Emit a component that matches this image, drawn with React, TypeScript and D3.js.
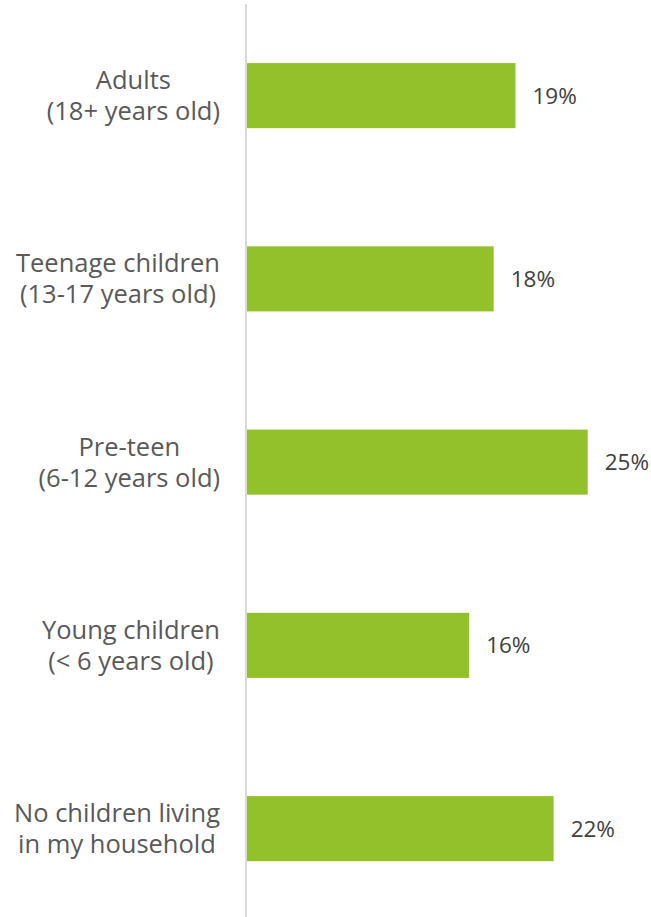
import React, { useEffect, useRef } from "react";
import * as d3 from "d3";

const categoryLines: string[][] = [
  ["Adults", "(18+ years old)"],
  ["Teenage children", "(13-17 years old)"],
  ["Pre-teen", "(6-12 years old)"],
  ["Young children", "(< 6 years old)"],
  ["No children living", "in my household"],
];
const categoryKeys = ["adults", "teen", "preteen", "young", "none"];
const values = [19.7, 18.1, 25.0, 16.3, 22.5];
const valueLabels = ["19%", "18%", "25%", "16%", "22%"];

const W = 651;
const H = 917;

export default function App() {
  const ref = useRef<SVGSVGElement | null>(null);

  useEffect(() => {
    const svg = d3.select(ref.current);
    svg.selectAll("*").remove();

    const x = d3.scaleLinear().domain([0, 25]).range([247, 587.7]);
    const y = d3
      .scaleBand<string>()
      .domain(categoryKeys)
      .range([4, 920.25])
      .paddingInner(0.645)
      .paddingOuter(0.3225);

    // axis line
    svg
      .append("line")
      .attr("x1", 246)
      .attr("x2", 246)
      .attr("y1", 4)
      .attr("y2", H)
      .attr("stroke", "#d9d9d9")
      .attr("stroke-width", 2);

    // bars
    svg
      .selectAll("rect.bar")
      .data(values)
      .join("rect")
      .attr("class", "bar")
      .attr("x", x(0))
      .attr("y", (_, i) => y(categoryKeys[i])!)
      .attr("width", (d) => x(d) - x(0))
      .attr("height", y.bandwidth())
      .attr("fill", "#92c12a");

    // value labels
    const vfs = 22.5;
    svg
      .selectAll("text.val")
      .data(values)
      .join("text")
      .attr("class", "val")
      .attr("x", (d) => x(d) + 17)
      .attr("y", (_, i) => y(categoryKeys[i])! + y.bandwidth() / 2 + vfs * 0.36)
      .attr("font-family", "'Open Sans', sans-serif")
      .attr("font-size", vfs)
      .attr("fill", "#404040")
      .text((_, i) => valueLabels[i]);

    // category labels: block right-aligned at 220, lines centered within block
    const cfs = 25.5;
    const rightX = 220;
    categoryLines.forEach((lines, i) => {
      const cy = y(categoryKeys[i])! + y.bandwidth() / 2;
      const g = svg.append("g");
      const texts = lines.map((ln, j) =>
        g
          .append("text")
          .attr("y", cy - 6.5 + j * 31)
          .attr("font-family", "'Open Sans', sans-serif")
          .attr("font-size", cfs)
          .attr("fill", "#595959")
          .attr("text-anchor", "middle")
          .text(ln)
      );
      const maxW = d3.max(texts, (t) => (t.node() as SVGTextElement).getComputedTextLength()) || 0;
      texts.forEach((t) => t.attr("x", rightX - maxW / 2));
    });
  }, []);

  return (
    <svg
      ref={ref}
      width={W}
      height={H}
      style={{ position: "absolute", left: 0, top: 0, background: "#fff" }}
    />
  );
}
